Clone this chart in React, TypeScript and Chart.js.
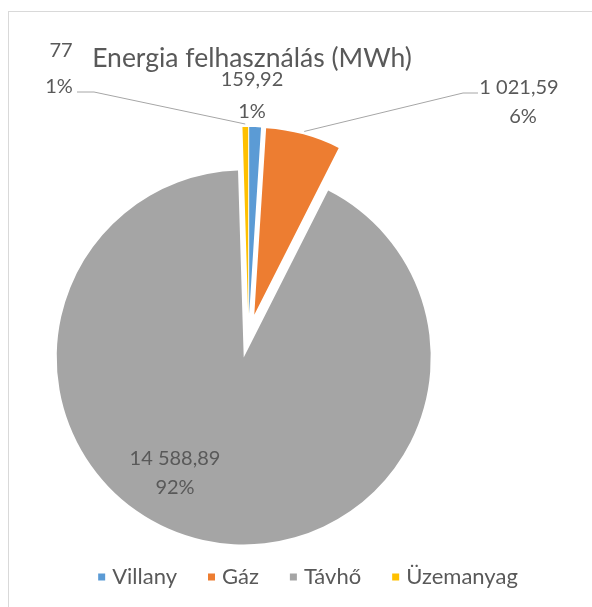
import React, { useEffect, useRef } from "react";
import { Chart, registerables } from "chart.js";

Chart.register(...registerables);

// ---- data ----
const categories = ["Villany", "Gáz", "Távhő", "Üzemanyag"];
const values = [159.92, 1021.59, 14588.89, 77];
const valueLabels = ["159,92", "1 021,59", "14 588,89", "77"];
const percentLabels = ["1%", "6%", "92%", "1%"];
const colors = ["#5B9BD5", "#ED7D31", "#A5A5A5", "#FFC000"];
const titleText = "Energia felhasználás (MWh)";

// ---- layout / style ----
const W = 592;
const H = 607;
const FONT = "Lato, 'Open Sans', sans-serif";
const TEXT_COLOR = "#595959";
const LINE_COLOR = "#A6A6A6";
const EXPLODE = 22;
const RADIUS = 187;
// label placement (value line, percent line) and optional leader line knee points
const labelLayout = [
  { vx: 252, vy: 80, px: 252, py: 112, leader: null as null | number[][] },
  { vx: 519, vy: 88, px: 523, py: 117, leader: [[478, 93], [463, 93]] },
  { vx: 175, vy: 459, px: 175, py: 488, leader: null },
  { vx: 61, vy: 51, px: 59, py: 87, leader: [[77, 92], [94, 92]] },
];

const explodePlugin = {
  id: "explodeSlices",
  beforeDatasetsDraw(chart: any) {
    const meta = chart.getDatasetMeta(0);
    const { left, right, top, bottom } = chart.chartArea;
    const cx = (left + right) / 2;
    const cy = (top + bottom) / 2;
    meta.data.forEach((arc: any) => {
      const mid = (arc.startAngle + arc.endAngle) / 2;
      arc.x = cx + EXPLODE * Math.cos(mid);
      arc.y = cy + EXPLODE * Math.sin(mid);
    });
  },
};

const decorPlugin = {
  id: "decor",
  afterDatasetsDraw(chart: any) {
    const ctx = chart.ctx as CanvasRenderingContext2D;
    const meta = chart.getDatasetMeta(0);
    ctx.save();
    // leader lines
    ctx.strokeStyle = LINE_COLOR;
    ctx.lineWidth = 1;
    meta.data.forEach((arc: any, i: number) => {
      const lay = labelLayout[i];
      if (!lay.leader) return;
      const mid = (arc.startAngle + arc.endAngle) / 2;
      const ex = arc.x + (arc.outerRadius + 3) * Math.cos(mid);
      const ey = arc.y + (arc.outerRadius + 3) * Math.sin(mid);
      ctx.beginPath();
      ctx.moveTo(lay.leader[0][0], lay.leader[0][1]);
      for (let k = 1; k < lay.leader.length; k++) ctx.lineTo(lay.leader[k][0], lay.leader[k][1]);
      ctx.lineTo(ex, ey);
      ctx.stroke();
    });
    // data labels
    ctx.fillStyle = TEXT_COLOR;
    ctx.font = `20px ${FONT}`;
    ctx.textAlign = "center";
    ctx.textBaseline = "middle";
    meta.data.forEach((_arc: any, i: number) => {
      const lay = labelLayout[i];
      ctx.fillText(valueLabels[i], lay.vx, lay.vy);
      ctx.fillText(percentLabels[i], lay.px, lay.py);
    });
    // title
    ctx.font = `26.5px ${FONT}`;
    ctx.textBaseline = "alphabetic";
    ctx.fillText(titleText, 252, 67);
    // legend
    ctx.font = `22px ${FONT}`;
    ctx.textAlign = "left";
    ctx.textBaseline = "middle";
    const box = 7, boxGap = 7, itemGap = 31;
    const widths = categories.map((c) => ctx.measureText(c).width);
    const total = widths.reduce((a, w) => a + box + boxGap + w, 0) + itemGap * (categories.length - 1);
    let x = 308 - total / 2;
    const ly = 577;
    categories.forEach((c, i) => {
      ctx.fillStyle = colors[i];
      ctx.fillRect(x, ly - box / 2, box, box);
      x += box + boxGap;
      ctx.fillStyle = TEXT_COLOR;
      ctx.fillText(c, x, ly);
      x += widths[i] + itemGap;
    });
    ctx.restore();
  },
};

function PieChart() {
  const ref = useRef<HTMLCanvasElement>(null);
  useEffect(() => {
    if (!ref.current) return;
    const chart = new Chart(ref.current, {
      type: "pie",
      data: {
        labels: categories,
        datasets: [
          {
            data: values,
            backgroundColor: colors,
            borderWidth: 0,
          },
        ],
      },
      options: {
        responsive: false,
        animation: false,
        radius: RADIUS,
        layout: { padding: { left: 0, right: W - 497, top: 65, bottom: 0 } },
        plugins: {
          legend: { display: false },
          title: { display: false },
          tooltip: { enabled: false },
        },
      } as any,
      plugins: [explodePlugin, decorPlugin],
    });
    return () => chart.destroy();
  }, []);
  return <canvas ref={ref} width={W} height={H} style={{ position: "absolute", left: 0, top: 0, width: W, height: H }} />;
}

export default function App() {
  return (
    <div style={{ position: "fixed", left: 0, top: 0, width: W, height: H, overflow: "hidden", background: "#fff" }}>
      <div
        style={{
          position: "absolute",
          left: 8,
          top: 11,
          width: W,
          height: H,
          borderLeft: "1px solid #D9D9D9",
          borderTop: "1px solid #D9D9D9",
          boxSizing: "border-box",
        }}
      />
      <PieChart />
    </div>
  );
}
